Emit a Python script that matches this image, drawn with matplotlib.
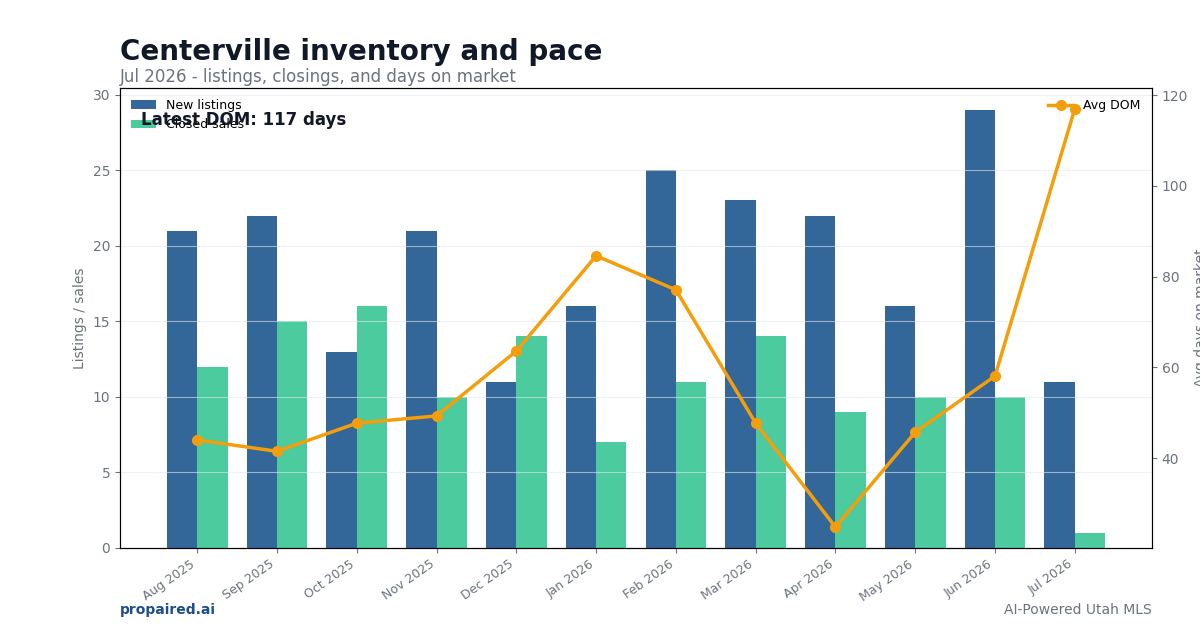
import matplotlib
matplotlib.use("Agg")
import matplotlib.pyplot as plt
import numpy as np

months = ["Aug 2025", "Sep 2025", "Oct 2025", "Nov 2025", "Dec 2025", "Jan 2026",
          "Feb 2026", "Mar 2026", "Apr 2026", "May 2026", "Jun 2026", "Jul 2026"]
new_listings = [21, 22, 13, 21, 11, 16, 25, 23, 22, 16, 29, 11]
closed_sales = [12, 15, 16, 10, 14, 7, 11, 14, 9, 10, 10, 1]
avg_dom = [44.0, 41.5, 47.7, 49.3, 63.6, 84.6, 77.1, 47.7, 24.8, 45.7, 58.1, 117.0]

c_new = "#336699"
c_closed = "#4bcb9e"
c_dom = "#f59e0b"
gray = "#6b7280"

fig = plt.figure(figsize=(12, 6.3), dpi=100)
ax = fig.add_axes([0.1, 0.1302, 0.86, 0.7302])
x = np.arange(len(months))
w = 0.38
ax.bar(x - w/2, new_listings, w, color=c_new, label="New listings")
ax.bar(x + w/2, closed_sales, w, color=c_closed, label="Closed sales")
ax.set_ylim(0, max(new_listings) * 1.05)
ax.grid(axis="y", color="#e5e7eb", alpha=0.6, linewidth=0.8)
ax.set_xticks(x)
ax.set_xticklabels(months, rotation=35, ha="right", color=gray, fontsize=9)
ax.tick_params(axis="y", colors=gray, labelsize=10)
ax.tick_params(axis="x", colors=gray)
ax.set_ylabel("Listings / sales", color=gray, fontsize=10)

ax2 = ax.twinx()
ax2.plot(x, avg_dom, color=c_dom, linewidth=2.5, marker="o", markersize=7, label="Avg DOM")
ax2.tick_params(axis="y", colors=gray, labelsize=10)
ax2.set_ylabel("Avg days on market", color=gray, fontsize=10)

ax.legend(loc="upper left", frameon=False, fontsize=9)
ax2.legend(loc="upper right", frameon=False, fontsize=9)

ax.text(0.02, 0.93, f"Latest DOM: {avg_dom[-1]:.0f} days", transform=ax.transAxes,
        fontsize=12, fontweight="bold", color="#111827", va="center", zorder=10)

fig.text(0.1, 0.918, "Centerville inventory and pace", fontsize=20, fontweight="bold",
         color="#111827", va="center")
fig.text(0.1, 0.877, "Jul 2026 - listings, closings, and days on market", fontsize=12,
         color=gray, va="center")
fig.text(0.1, 0.032, "propaired.ai", fontsize=10, fontweight="bold", color="#1e4e8c", va="center")
fig.text(0.96, 0.032, "AI-Powered Utah MLS", fontsize=10, color=gray, va="center", ha="right")

fig.savefig("out.png", dpi=100)
